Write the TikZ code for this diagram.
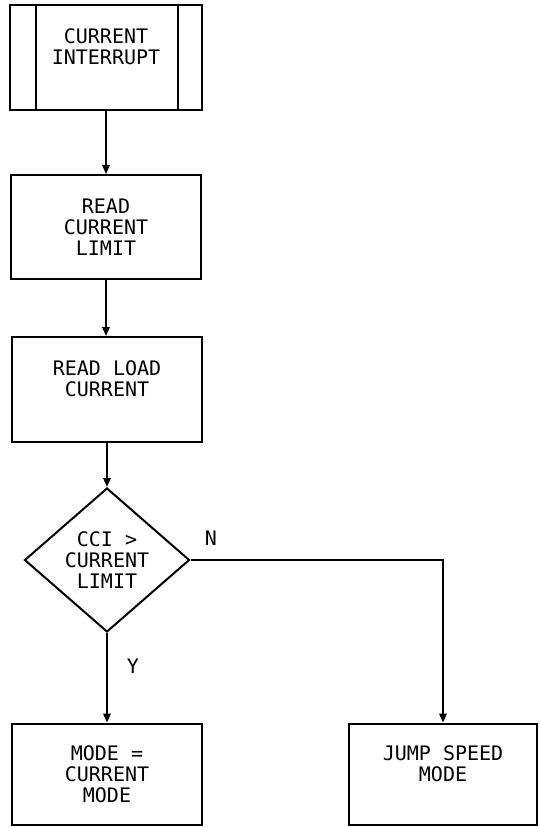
\documentclass[tikz,border=0pt]{standalone}
\usepackage{fontspec}
\setmonofont{DejaVu Sans Mono}
\usepackage{tikz}
\usetikzlibrary{positioning,arrows.meta,calc,shapes.geometric}

\begin{document}
\begin{tikzpicture}[
  x=1pt,y=-1pt,
  every node/.style={font=\ttfamily\fontsize{20}{21}\selectfont},
  block/.style={draw,line width=2pt,align=center,minimum width=190pt,minimum height=104pt,inner sep=0pt},
  decision/.style={draw,diamond,line width=2pt,align=center,minimum width=165pt,minimum height=144pt,inner sep=0pt},
  arrow/.style={-{Triangle[length=9pt,width=7.5pt]},line width=1.8pt}
]
  \useasboundingbox (0,0) rectangle (539,827);
  \node[block,minimum width=192pt,minimum height=105pt] (intr) at (106,57.5) {CURRENT\\INTERRUPT\\~};
  \draw[line width=2pt] ($(intr.north west)+(27,0)$) -- ($(intr.south west)+(27,0)$);
  \draw[line width=2pt] ($(intr.north east)+(-25,0)$) -- ($(intr.south east)+(-25,0)$);
  \node[block] (rlimit) at (106,227) {READ\\CURRENT\\LIMIT};
  \node[block,minimum height=105pt] (rload) at (107,389.5) {READ LOAD\\CURRENT\\~};
  \node[decision] (cci) at (107,560) {CCI >\\CURRENT\\LIMIT};
  \node[block,minimum height=101pt] (cmode) at (107,774) {MODE =\\CURRENT\\MODE};
  \node[block,minimum width=188pt,minimum height=101pt] (jump) at (443,774) {JUMP SPEED\\MODE\\~};
  \draw[arrow] (intr) -- (rlimit);
  \draw[arrow] (rlimit.south) -- (rlimit.south |- rload.north);
  \draw[arrow] (rload) -- (cci);
  \draw[arrow] (cci) -- (cmode);
  \draw[arrow] (cci.east) -| (jump.north);
  \node (nlab) at (211,538) {N};
  \node (ylab) at (133,666) {Y};
\end{tikzpicture}
\end{document}
